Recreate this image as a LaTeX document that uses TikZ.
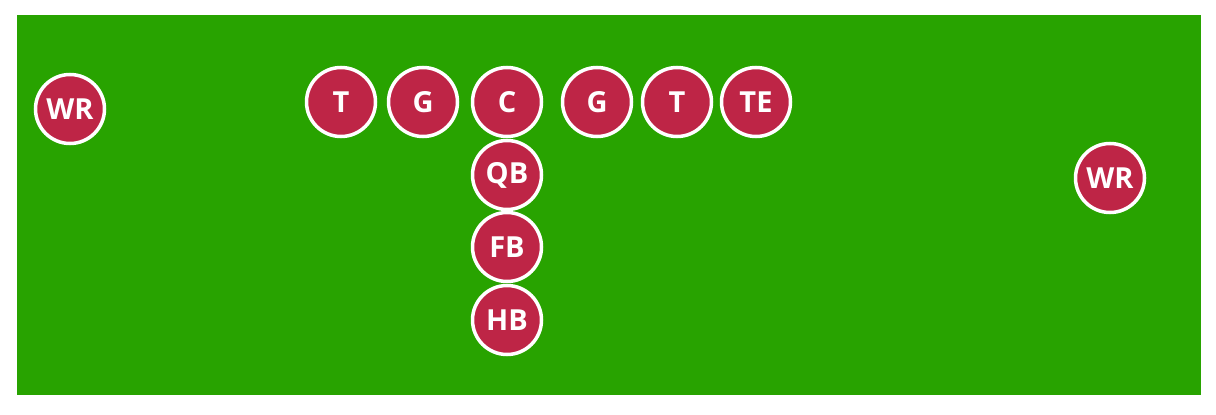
\documentclass[tikz,border=0pt]{standalone}
\usepackage{fontspec}
\setmainfont{Open Sans}
\definecolor{field}{RGB}{40,163,0}
\definecolor{player}{RGB}{190,37,70}
\newcommand{\plab}[1]{\raisebox{-2.5pt}{#1}}
\begin{document}
\begin{tikzpicture}[x=1pt,y=-1pt,
  player/.style={circle,fill=player,draw=white,line width=3.5pt,minimum size=69pt,inner sep=0pt,
    text=white,font=\fontsize{29}{30}\selectfont\bfseries}]
\useasboundingbox (0,0) rectangle (1216,415);
\fill[field] (17,15) rectangle (1201,395);
\node[player] (wrl) at (70,109) {\plab{WR}};
\node[player] (tl) at (341,102) {\plab{T}};
\node[player] (gl) at (423,102) {\plab{G}};
\node[player] (c) at (507,102) {\plab{C}};
\node[player] (gr) at (597,102) {\plab{G}};
\node[player] (tr) at (677,102) {\plab{T}};
\node[player] (te) at (756,102) {\plab{TE}};
\node[player] (wrr) at (1110,178) {\plab{WR}};
\node[player] (qb) at (507,175) {\plab{QB}};
\node[player] (fb) at (507,247) {\plab{FB}};
\node[player] (hb) at (507,320) {\plab{HB}};
\end{tikzpicture}
\end{document}
